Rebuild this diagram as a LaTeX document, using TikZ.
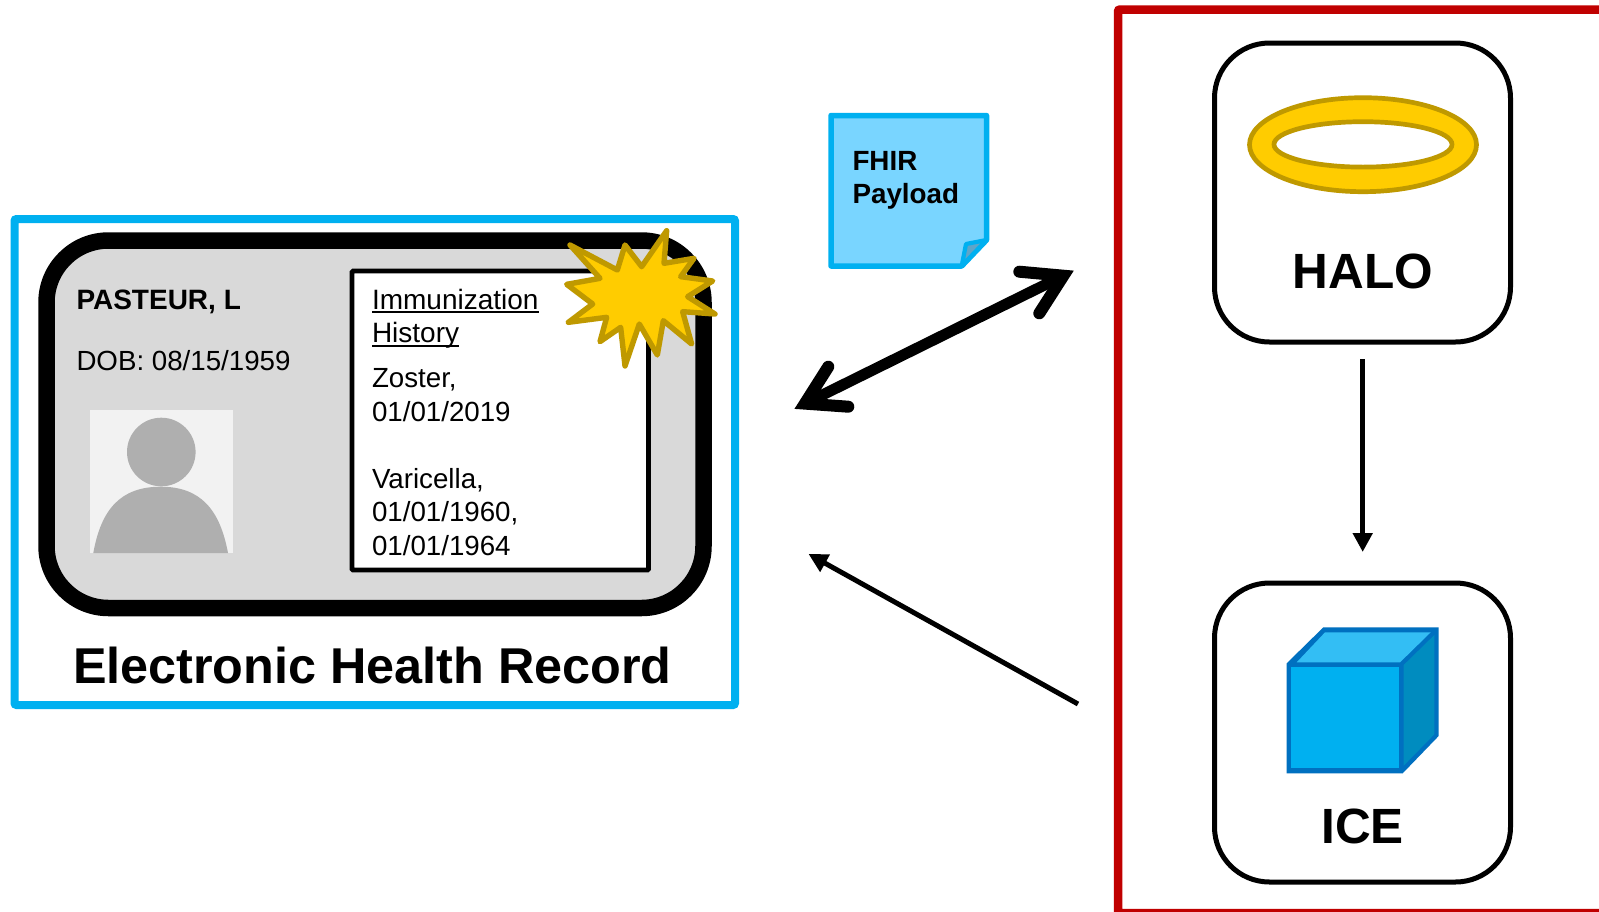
\documentclass[tikz,border=0pt]{standalone}
\usepackage{fontspec}
\setmainfont{Liberation Sans}
\usetikzlibrary{arrows.meta,shapes.geometric}
\definecolor{ehrblue}{HTML}{00B0F0}
\definecolor{halored}{HTML}{C00000}
\definecolor{cardgrey}{HTML}{D9D9D9}
\definecolor{photobg}{HTML}{F2F2F2}
\definecolor{persongrey}{HTML}{AFAFAF}
\definecolor{gold}{HTML}{FFCC00}
\definecolor{golddark}{HTML}{BF9900}
\definecolor{notefill}{HTML}{79D5FF}
\definecolor{foldfill}{HTML}{5FA5C8}
\definecolor{cubeline}{HTML}{0070C0}
\definecolor{cubetop}{HTML}{33BEF4}
\definecolor{cubeside}{HTML}{008CBF}
\newcommand{\ulword}[1]{\setbox0=\hbox{#1}\rlap{\rule[-3.6pt]{\wd0}{2pt}}\box0}
\newcommand{\fs}[2]{\fontsize{#1}{#2}\selectfont}
\tikzset{
  every node/.append style={outer sep=0pt},
  textline/.style={inner sep=0pt,anchor=base west,text=black},
  textblock/.style={inner sep=0pt,anchor=north west,align=left,text=black},
  titletext/.style={inner sep=0pt,anchor=base,text=black,font=\bfseries\fs{49.5}{60}},
  appbox/.style={draw=black,line width=5pt,fill=white,rounded corners=55pt,minimum width=296pt,minimum height=299pt,inner sep=0pt},
  bigarrow/.style={line width=11pt},
  bighead/.style={line width=12pt,line cap=round,line join=miter,miter limit=10},
  smallarrow/.style={line width=5pt,-{Triangle[length=19pt,width=19pt]}},
  goldline/.style={draw=golddark,fill=gold,line width=4.7pt},
}
\begin{document}
\begin{tikzpicture}[x=1pt,y=-1pt]
\useasboundingbox (0,0) rectangle (1599,911);
\begin{scope}
\clip (0,0) rectangle (1599,911);
\draw[halored,line width=8.5pt,rounded corners=2pt] (1118,9.5) rectangle (1610,913.2);
\end{scope}
% blue frame
\node[draw=ehrblue,line width=8pt,rounded corners=2pt,minimum width=720.5pt,minimum height=486pt,inner sep=0pt,anchor=north west] (ehr) at (14.5,219) {};
% card
\node[draw=black,fill=cardgrey,line width=16.5pt,rounded corners=62pt,minimum width=657pt,minimum height=367.5pt,inner sep=0pt,anchor=north west] (card) at (46.5,240.5) {};
\node[textline,font=\bfseries\fs{28}{32}] (name) at (76.5,309) {PASTEUR, L};
\node[textline,font=\fs{27.7}{32}] (dob) at (76.5,370) {DOB: 08/15/1959};
% photo
\fill[photobg] (90,410) rectangle (233,553);
\fill[persongrey] (161.3,452) circle[radius=34.3];
\fill[persongrey] (93.3,553) .. controls (101,510) and (120,486.7) .. (160.7,486.7) .. controls (201,486.7) and (220,510) .. (228,553) -- cycle;
% history box
\node[draw=black,fill=white,line width=4.6pt,rounded corners=1pt,minimum width=296.5pt,minimum height=299pt,inner sep=0pt,anchor=north west] (hist) at (352,271) {};
\node[textblock,font=\fs{28}{33.2}] (immun) at (372,289.5) {\ulword{Immunization}\\\ulword{History}};
\node[textblock,font=\fs{27.7}{34}] (zoster) at (372,368) {Zoster,\\01/01/2019};
\node[textblock,font=\fs{27.7}{33.6}] (vari) at (372,468) {Varicella,\\01/01/1960,\\01/01/1964};
% star
\begin{scope}[shift={(520,200)},x=0.33333pt,y=-0.33333pt]
\draw[goldline,line width=5.4pt,line join=round]
 (150,135) -- (292,210) -- (315,135) -- (365,200) -- (440,92) -- (432,190) -- (522,175) -- (482,230) -- (578,243) -- (503,290) -- (585,342) -- (488,335) -- (515,432) -- (430,362) -- (412,465) -- (358,372) -- (315,498) -- (302,382) -- (240,425) -- (260,352) -- (145,367) -- (218,312) -- (140,253) -- (240,235) -- cycle;
\end{scope}
\node[titletext,font=\bfseries\fs{50.35}{60},anchor=base west] (ehrlabel) at (73,683) {Electronic Health Record};
% note
\draw[draw=ehrblue,fill=notefill,line width=5.5pt,line join=round] (831,115.5) -- (986.5,115.5) -- (986.5,240) -- (961.7,266) -- (831,266) -- cycle;
\draw[draw=ehrblue,fill=foldfill,line width=4.2pt,line join=round] (961.7,266) -- (966,244) -- (986.5,240) -- cycle;
\node[textblock,font=\bfseries\fs{27.8}{33}] (fhir) at (852.5,151.5) {FHIR\\Payload};
% arrows
\coordinate (ba) at (804.9,403.6);
\coordinate (bb) at (1063.4,275.7);
\coordinate (ba1) at (828.3,366.7);
\coordinate (ba2) at (848.3,406.7);
\coordinate (bb1) at (1019.3,271.7);
\coordinate (bb2) at (1039.3,313.3);
\draw[bigarrow] (ba) -- (bb);
\draw[bighead] (ba1) -- (ba) -- (ba2);
\draw[bighead] (bb1) -- (bb) -- (bb2);
\coordinate (ca) at (1078,704);
\coordinate (cb) at (808.5,554);
\draw[smallarrow] (ca) -- (cb);
% HALO
\node[appbox,anchor=north west] (halo) at (1214.5,43) {};
\node[titletext] (halolabel) at (1363,288) {HALO};
\path[goldline,even odd rule] (1363,144.7) ellipse[x radius=113.5,y radius=47] (1363,144.4) ellipse[x radius=89,y radius=22.7];
% ICE
\node[appbox,anchor=north west] (ice) at (1214.5,583) {};
\node[titletext] (icelabel) at (1362.5,843) {ICE};
\begin{scope}[shift={(1200,600)},x=0.33333pt,y=-0.33333pt]
\fill[cubeline] (260,190) -- (370,82) -- (716,82) -- (716,408) -- (608,520) -- (260,520) -- cycle;
\fill[ehrblue] (274,202) rectangle (597,505);
\fill[cubetop] (290,187) -- (375,97) -- (692,97) -- (600,187) -- cycle;
\fill[cubeside] (611,195) -- (703,105) -- (703,403) -- (611,497) -- cycle;
\end{scope}
\coordinate (da) at (1362.7,359.3);
\coordinate (db) at (1362.7,552);
\draw[smallarrow] (da) -- (db);
\end{tikzpicture}
\end{document}
